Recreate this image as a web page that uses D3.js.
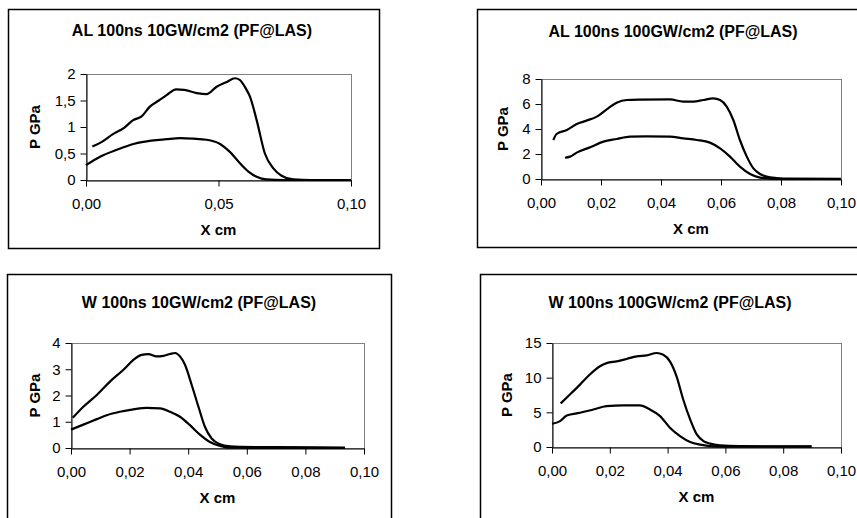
<!DOCTYPE html>
<html>
<head>
<meta charset="utf-8">
<script src="https://cdn.jsdelivr.net/npm/d3@7"></script>
<style>
  body { margin: 0; background: #fff; }
  svg { display: block; font-family: "Liberation Sans", Arial, sans-serif; }
  .tick text { font-size: 15px; fill: #000; }
  .tick line, .domain { stroke: #000; }
</style>
</head>
<body>
<div id="chart"></div>
<script>
// pressure profiles: [x cm, P GPa]
var al10Upper = [[0.0024,0.63],[0.006,0.72],[0.010,0.86],[0.0145,0.99],[0.0178,1.13],[0.021,1.20],[0.024,1.38],[0.0275,1.50],[0.0304,1.60],[0.034,1.71],[0.037,1.70],[0.0418,1.64],[0.0455,1.62],[0.0493,1.76],[0.0531,1.85],[0.0562,1.92],[0.058,1.89],[0.0606,1.70],[0.0619,1.57],[0.0644,1.13],[0.0675,0.50],[0.0707,0.22],[0.0738,0.08],[0.0782,0.01],[0.085,0.0],[0.1,0.0]];
var al10Lower = [[0.0,0.28],[0.0053,0.44],[0.0116,0.57],[0.0179,0.68],[0.0216,0.72],[0.0304,0.77],[0.0355,0.79],[0.0405,0.78],[0.0455,0.76],[0.0506,0.68],[0.0543,0.53],[0.0575,0.35],[0.0613,0.16],[0.0644,0.06],[0.068,0.01],[0.075,0.0],[0.1,0.0]];

var al100Upper = [[0.0041,3.12],[0.0052,3.6],[0.0086,3.92],[0.0119,4.4],[0.0152,4.67],[0.0186,4.99],[0.0219,5.57],[0.0252,6.1],[0.0286,6.32],[0.033,6.35],[0.043,6.37],[0.0474,6.19],[0.0508,6.19],[0.0541,6.32],[0.0574,6.45],[0.0597,6.32],[0.0619,5.79],[0.0641,4.72],[0.0663,3.12],[0.0686,1.79],[0.0708,0.85],[0.073,0.40],[0.0752,0.19],[0.0786,0.08],[0.083,0.03],[0.1,0.02]];
var al100Lower = [[0.008,1.70],[0.0097,1.79],[0.0119,2.11],[0.0163,2.53],[0.0208,2.99],[0.0252,3.2],[0.0297,3.39],[0.035,3.41],[0.043,3.39],[0.0474,3.25],[0.0519,3.12],[0.0563,2.91],[0.0597,2.45],[0.063,1.79],[0.0663,0.99],[0.0697,0.40],[0.073,0.11],[0.0763,0.03],[0.08,0.0],[0.1,0.0]];

var w10Upper = [[0.0006,1.15],[0.0042,1.57],[0.0088,2.02],[0.0133,2.53],[0.0179,2.98],[0.0213,3.36],[0.0241,3.55],[0.0264,3.58],[0.0292,3.49],[0.0315,3.51],[0.0338,3.58],[0.0355,3.62],[0.0372,3.49],[0.0389,3.17],[0.0412,2.40],[0.0435,1.57],[0.0457,0.81],[0.048,0.36],[0.0509,0.14],[0.0543,0.06],[0.0577,0.04],[0.07,0.03],[0.0935,0.02]];
var w10Lower = [[0.0,0.70],[0.0042,0.89],[0.0088,1.10],[0.0122,1.25],[0.0167,1.38],[0.0213,1.47],[0.0258,1.53],[0.0304,1.51],[0.0338,1.38],[0.0372,1.19],[0.0406,0.87],[0.044,0.51],[0.0474,0.23],[0.0509,0.08],[0.0543,0.01],[0.0935,0.0]];

var w100Upper = [[0.003,6.28],[0.0062,7.57],[0.0097,9.0],[0.0131,10.45],[0.0166,11.64],[0.0189,12.1],[0.0224,12.36],[0.0258,12.7],[0.0293,13.08],[0.0328,13.22],[0.0362,13.56],[0.0385,13.32],[0.0408,12.36],[0.0431,10.2],[0.0454,6.85],[0.0478,3.98],[0.0501,1.82],[0.0524,0.86],[0.0547,0.48],[0.0581,0.24],[0.065,0.12],[0.0898,0.1]];
var w100Lower = [[0.0,3.35],[0.0028,3.74],[0.0051,4.55],[0.0097,4.94],[0.0143,5.41],[0.0189,5.89],[0.0247,5.99],[0.0304,5.99],[0.0339,5.41],[0.0374,4.46],[0.0408,2.78],[0.0443,1.58],[0.0478,0.72],[0.0512,0.34],[0.0547,0.14],[0.06,0.05],[0.0898,0.05]];

var titles = ["AL 100ns 10GW/cm2 (PF@LAS)", "AL 100ns 100GW/cm2 (PF@LAS)", "W 100ns 10GW/cm2 (PF@LAS)", "W 100ns 100GW/cm2 (PF@LAS)"];
var xTicksWide = [0, 0.05, 0.1];
var xTicksFine = [0, 0.02, 0.04, 0.06, 0.08, 0.1];
var yTicksAl10 = [0, 0.5, 1, 1.5, 2];
var yTicksAl100 = [0, 2, 4, 6, 8];
var yTicksW10 = [0, 1, 2, 3, 4];
var yTicksW100 = [0, 5, 10, 15];

var svg = d3.select("#chart").append("svg")
  .attr("width", 857)
  .attr("height", 518);

var loc = d3.formatLocale({ decimal: ",", thousands: ".", grouping: [3], currency: ["", ""] });
var fx = loc.format(".2f");
var fy = function(d) { return loc.format("~g")(d); };

// box / plot area layout for each chart
var panels = [
  { title: titles[0], box: [8, 9, 379, 248], plot: [86, 74, 351, 180], tx: 192, ty: 36, ylab: 35,
    yMax: 2, yTicks: yTicksAl10, xTicks: xTicksWide, series: [al10Upper, al10Lower] },
  { title: titles[1], box: [477, 9, 870, 247], plot: [541, 79, 841, 179], tx: 673, ty: 37, ylab: 503,
    yMax: 8, yTicks: yTicksAl100, xTicks: xTicksFine, series: [al100Upper, al100Lower] },
  { title: titles[2], box: [7, 274, 391, 530], plot: [71, 343, 364, 448], tx: 199, ty: 308, ylab: 35,
    yMax: 4, yTicks: yTicksW10, xTicks: xTicksFine, series: [w10Upper, w10Lower] },
  { title: titles[3], box: [480, 274, 870, 530], plot: [552, 343, 841, 447], tx: 670, ty: 308, ylab: 507,
    yMax: 15, yTicks: yTicksW100, xTicks: xTicksFine, series: [w100Upper, w100Lower] }
];

panels.forEach(function(p) {
  var g = svg.append("g");

  g.append("rect")
    .attr("x", p.box[0] + 0.5).attr("y", p.box[1] + 0.5)
    .attr("width", p.box[2] - p.box[0]).attr("height", p.box[3] - p.box[1])
    .attr("fill", "#fff").attr("stroke", "#000").attr("stroke-width", 1.5);

  var x = d3.scaleLinear().domain([0, 0.1]).range([p.plot[0], p.plot[2]]);
  var y = d3.scaleLinear().domain([0, p.yMax]).range([p.plot[3], p.plot[1]]);

  // plot area frame
  g.append("rect")
    .attr("x", p.plot[0] + 0.5).attr("y", p.plot[1] + 0.5)
    .attr("width", p.plot[2] - p.plot[0]).attr("height", p.plot[3] - p.plot[1])
    .attr("fill", "none").attr("stroke", "#808080").attr("stroke-width", 1);

  g.append("g")
    .attr("transform", "translate(0," + (p.plot[3] + 0.5) + ")")
    .call(d3.axisBottom(x).tickValues(p.xTicks).tickFormat(fx).tickSize(6).tickSizeOuter(0).tickPadding(12));

  g.append("g")
    .attr("transform", "translate(" + (p.plot[0] + 0.5) + ",0)")
    .call(d3.axisLeft(y).tickValues(p.yTicks).tickFormat(fy).tickSize(6).tickSizeOuter(0).tickPadding(5));

  var line = d3.line()
    .x(function(d) { return x(d[0]); })
    .y(function(d) { return y(d[1]); })
    .curve(d3.curveMonotoneX);

  p.series.forEach(function(s) {
    g.append("path")
      .datum(s)
      .attr("d", line)
      .attr("fill", "none")
      .attr("stroke", "#000")
      .attr("stroke-width", 2.2);
  });

  g.append("text")
    .attr("x", p.tx).attr("y", p.ty)
    .attr("text-anchor", "middle")
    .attr("font-size", "16px").attr("font-weight", "bold")
    .text(p.title);

  g.append("text")
    .attr("x", (p.plot[0] + p.plot[2]) / 2).attr("y", p.plot[3] + 55)
    .attr("text-anchor", "middle")
    .attr("font-size", "15px").attr("font-weight", "bold")
    .text("X cm");

  g.append("text")
    .attr("transform", "translate(" + (p.ylab + 5) + "," + ((p.plot[1] + p.plot[3]) / 2) + ") rotate(-90)")
    .attr("text-anchor", "middle")
    .attr("font-size", "15px").attr("font-weight", "bold")
    .text("P GPa");
});
</script>
</body>
</html>
